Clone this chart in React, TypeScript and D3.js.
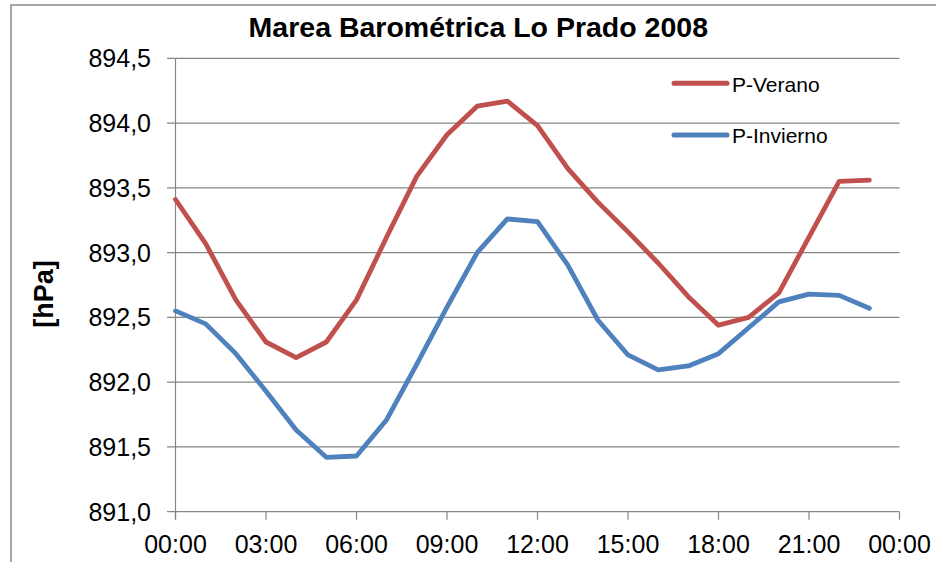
import React from "react";
import * as d3 from "d3";

const hours = [0,1,2,3,4,5,6,7,8,9,10,11,12,13,14,15,16,17,18,19,20,21,22,23];
const verano = [893.41,893.07,892.635,892.31,892.19,892.31,892.635,893.12,893.59,893.91,894.13,894.17,893.98,893.65,893.39,893.16,892.92,892.66,892.44,892.5,892.69,893.12,893.55,893.56];
const invierno = [892.55,892.45,892.22,891.93,891.63,891.42,891.43,891.71,892.14,892.58,893.0,893.26,893.24,892.905,892.48,892.21,892.095,892.125,892.22,892.42,892.62,892.68,892.67,892.57];
const yTicks = [891.0,891.5,892.0,892.5,893.0,893.5,894.0,894.5];
const xTicks = [0,3,6,9,12,15,18,21,24];
const xTickLabels = ["00:00","03:00","06:00","09:00","12:00","15:00","18:00","21:00","00:00"];
const seriesNames = ["P-Verano","P-Invierno"];
const title = "Marea Barométrica Lo Prado 2008";
const yLabel = "[hPa]";

const RED = "#C0504D";
const BLUE = "#4F81BD";
const GRID = "#868686";
const FONT = "Arial, 'Liberation Sans', sans-serif";

export default function App() {
  const x = d3.scaleLinear().domain([0, 24]).range([175.5, 899.5]);
  const y = d3.scaleLinear().domain([891, 894.5]).range([511.7, 58.3]);
  const line = d3.line<number>().x((_, i) => x(hours[i])).y((d) => y(d));
  const fmt = (v: number) => v.toFixed(1).replace(".", ",");
  const series = [
    { name: seriesNames[0], data: verano, color: RED },
    { name: seriesNames[1], data: invierno, color: BLUE },
  ];
  return (
    <svg width={936} height={562} style={{ position: "absolute", left: 0, top: 0, background: "#fff" }}>
      <rect x={0} y={0} width={936} height={562} fill="#fff" />
      <rect x={11} y={5} width={960} height={600} fill="none" stroke="#8a8a8a" strokeWidth={1.5} />
      <text x={478.3} y={37.3} textAnchor="middle" fontFamily={FONT} fontWeight="bold" fontSize={28.5} fill="#000">{title}</text>
      {yTicks.map((t) => (
        <g key={t}>
          <line x1={167} x2={899.5} y1={y(t)} y2={y(t)} stroke={GRID} strokeWidth={1.2} />
          <text x={151} y={y(t)} dy="0.36em" textAnchor="end" fontFamily={FONT} fontSize={25} fill="#000">{fmt(t)}</text>
        </g>
      ))}
      <line x1={x(0)} x2={x(0)} y1={y(894.5)} y2={y(891) + 8} stroke={GRID} strokeWidth={1.2} />
      {xTicks.map((t, i) => (
        <g key={i}>
          <line x1={x(t)} x2={x(t)} y1={y(891)} y2={y(891) + 8} stroke={GRID} strokeWidth={1.2} />
          <text x={x(t)} y={553} textAnchor="middle" fontFamily={FONT} fontSize={25} fill="#000">{xTickLabels[i]}</text>
        </g>
      ))}
      <text transform={`translate(53,294) rotate(-90)`} textAnchor="middle" fontFamily={FONT} fontWeight="bold" fontSize={27} fill="#000">{yLabel}</text>
      {series.map((s) => (
        <path key={s.name} d={line(s.data) || ""} fill="none" stroke={s.color} strokeWidth={4.8} strokeLinejoin="round" strokeLinecap="round" />
      ))}
      {series.map((s, i) => (
        <g key={s.name}>
          <line x1={674} x2={727} y1={83.3 + i * 51.7} y2={83.3 + i * 51.7} stroke={s.color} strokeWidth={5} strokeLinecap="round" />
          <text x={732} y={91.5 + i * 51.7} fontFamily={FONT} fontSize={21} fill="#000">{s.name}</text>
        </g>
      ))}
    </svg>
  );
}
